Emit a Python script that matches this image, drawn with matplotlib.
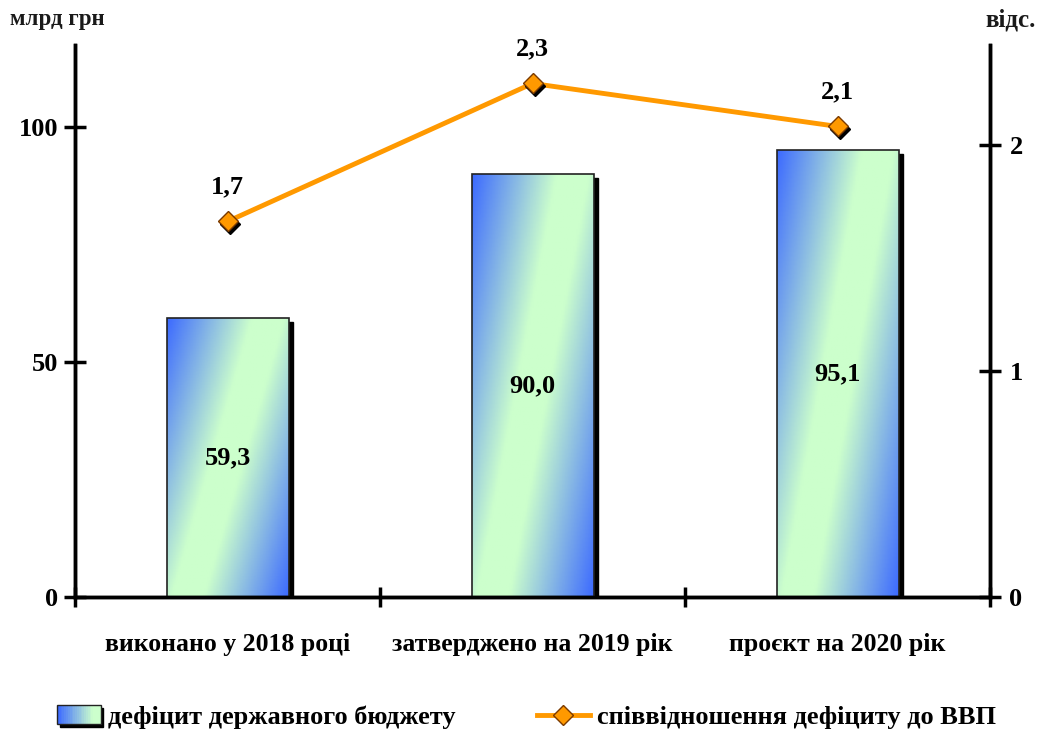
import matplotlib
matplotlib.use("Agg")
import matplotlib.pyplot as plt
import matplotlib.transforms as mtransforms
from matplotlib.colors import LinearSegmentedColormap
from matplotlib.patches import Rectangle
from matplotlib.lines import Line2D
from matplotlib.legend_handler import HandlerBase
import numpy as np

categories = ["виконано у 2018 році", "затверджено на 2019 рік", "проєкт на 2020 рік"]
deficit = [59.3, 90.0, 95.1]
deficit_labels = ["59,3", "90,0", "95,1"]
ratio = [1.66, 2.27, 2.08]
ratio_labels = ["1,7", "2,3", "2,1"]

BLUE = "#3d6bff"
GREEN = "#ccffcc"
ORANGE = "#ff9900"
grad = LinearSegmentedColormap.from_list(
    "g", [(0, BLUE), (0.42, GREEN), (0.58, GREEN), (1, BLUE)], N=256)

plt.rcParams["font.family"] = ["Liberation Serif", "DejaVu Serif"]
plt.rcParams["font.weight"] = "bold"

fig = plt.figure(figsize=(10.45, 7.31), dpi=100)
ax = fig.add_axes([75 / 1045, 1 - 597 / 731, 915 / 1045, 552 / 731])
ax2 = ax.twinx()

width = 0.4
shadow = mtransforms.ScaledTranslation(4 / 100, -4 / 100, fig.dpi_scale_trans)

# tilted gradient: blue in top-left and bottom-right corners, green band in the middle
u = np.linspace(0, 1, 80)
v = np.linspace(0, 1, 200)
U, V = np.meshgrid(u, v)
T = 0.6 * U + 0.4 * V  # V = 0 at top row (origin upper)

for i, val in enumerate(deficit):
    x0 = i - width / 2
    sh = Rectangle((x0, 0), width, val, facecolor="black", edgecolor="black",
                   transform=ax.transData + shadow, zorder=1)
    ax.add_patch(sh)
    rect = Rectangle((x0, 0), width, val, facecolor="none", edgecolor="#222222",
                     lw=1.2, zorder=3)
    ax.add_patch(rect)
    im = ax.imshow(T, cmap=grad, extent=(x0, x0 + width, 0, val), origin="upper",
                   aspect="auto", zorder=2, vmin=0, vmax=1)
    im.set_clip_path(rect)
    ax.text(i, val / 2, deficit_labels[i], ha="center", va="center",
            fontsize=19, fontweight="bold", zorder=4)

ax.set_xlim(-0.5, 2.5)
ax.set_ylim(0, 117.4)
ax.set_aspect("auto")
ax.set_yticks([0, 50, 100])
ax.set_xticks([-0.5, 0.5, 1.5, 2.5])
ax.set_xticklabels([])
ax.set_xticks([0, 1, 2], minor=True)
ax.set_xticklabels(categories, minor=True, fontsize=18.5, fontweight="bold")
ax.tick_params(axis="x", which="minor", length=0, pad=26)
ax.tick_params(axis="x", which="major", direction="inout", length=14, width=2.5)
ax.tick_params(axis="y", direction="inout", length=16, width=2.5, labelsize=19, pad=4)

# line on the secondary axis
xs = np.arange(len(ratio))
ax2.plot(xs, ratio, color=ORANGE, lw=3.5, zorder=3)
mshadow = mtransforms.ScaledTranslation(2.5 / 100, -2.5 / 100, fig.dpi_scale_trans)
ax2.plot(xs, ratio, ls="none", marker="D", ms=10, color="black",
         transform=ax2.transData + mshadow, zorder=4)
ax2.plot(xs, ratio, ls="none", marker="D", ms=10, markerfacecolor=ORANGE,
         markeredgecolor="#7a3a00", mew=1, zorder=5)
for i, r in enumerate(ratio):
    ax2.annotate(ratio_labels[i], (i, r), xytext=(0, 17), textcoords="offset points",
                 ha="center", va="bottom", fontsize=19, fontweight="bold")
ax2.set_ylim(0, 2.44)
ax2.set_yticks([0, 1, 2])
ax2.tick_params(axis="y", direction="inout", length=16, width=2.5, labelsize=19, pad=6)

for a in (ax, ax2):
    a.spines["top"].set_visible(False)
    for s in ("left", "right", "bottom"):
        a.spines[s].set_linewidth(2.5)
ax.set_zorder(ax2.get_zorder() - 1)
ax2.patch.set_visible(False)

fig.text(10 / 1045, 1 - 20 / 731, "млрд грн", fontsize=16.5, fontweight="bold",
         va="center", ha="left", color="#1a1a1a")
fig.text(1036 / 1045, 1 - 20 / 731, "відс.", fontsize=18, fontweight="bold",
         va="center", ha="right", color="#1a1a1a")


class GradHandler(HandlerBase):
    def create_artists(self, legend, orig_handle, xdescent, ydescent, width, height,
                       fontsize, trans):
        arts = []
        sh = Rectangle((-xdescent + 2, -ydescent - 2), width, height,
                       facecolor="black", edgecolor="black", transform=trans)
        arts.append(sh)
        n = 24
        for k in range(n):
            c = grad(0.5 * k / (n - 1))
            arts.append(Rectangle((-xdescent + width * k / n, -ydescent), width / n + 0.3,
                                  height, facecolor=c, edgecolor="none", transform=trans))
        arts.append(Rectangle((-xdescent, -ydescent), width, height, facecolor="none",
                              edgecolor="#222222", lw=1, transform=trans))
        return arts


bar_handle = Rectangle((0, 0), 1, 1)
line_handle = Line2D([], [], color=ORANGE, lw=3.5, marker="D", ms=10,
                     markerfacecolor=ORANGE, markeredgecolor="#7a3a00")
ly = 1 - 717 / 731
leg1 = fig.legend([bar_handle], ["дефіцит державного бюджету"],
                  handler_map={Rectangle: GradHandler()},
                  loc="center left", bbox_to_anchor=(57 / 1045, ly), frameon=False,
                  borderpad=0, borderaxespad=0, handlelength=1.65, handletextpad=0.27,
                  prop={"weight": "bold", "size": 19})
fig.legend([line_handle], ["співвідношення дефіциту до ВВП"],
           loc="center left", bbox_to_anchor=(537 / 1045, ly), frameon=False,
           borderpad=0, borderaxespad=0, handlelength=2.0, handletextpad=0.27,
           prop={"weight": "bold", "size": 19})

fig.savefig("out.png", dpi=100)
